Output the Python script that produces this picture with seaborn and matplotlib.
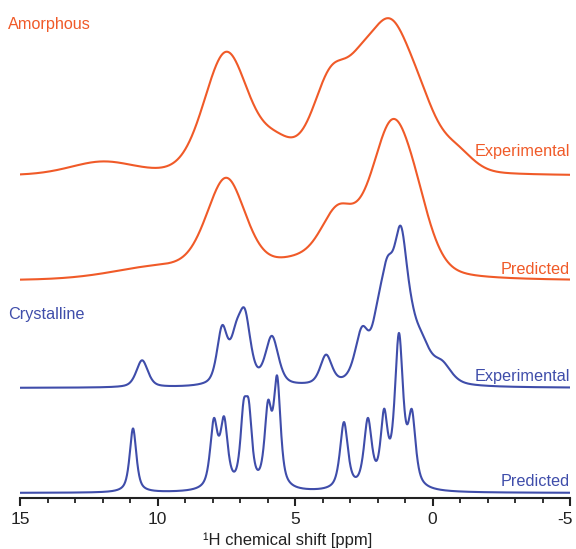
import numpy as np
import pandas as pd
import seaborn as sns
import matplotlib.pyplot as plt
from matplotlib.ticker import MultipleLocator
from matplotlib.transforms import ScaledTranslation

# ---------------- data (peak lists) ----------------
# each spectrum: peak centres (ppm), peak heights (px above its baseline), half-widths (ppm)
amorph_exp_centers = [12.0, 7.5, 5.65, 3.7, 2.6, 1.55, 0.4, -0.9]
amorph_exp_heights = [13, 121, 26, 90, 52, 130, 46, 18]
amorph_exp_widths = [1.4, 0.95, 0.8, 0.8, 0.7, 0.9, 0.8, 0.7]

amorph_pred_centers = [10.0, 7.5, 5.0, 3.45, 1.47, 0.55]
amorph_pred_heights = [12, 96, 14, 56, 150, 25]
amorph_pred_widths = [2.0, 0.85, 1.2, 0.75, 0.95, 0.7]

cryst_exp_centers = [10.56, 7.65, 7.15, 6.82, 5.84, 3.87, 2.56, 2.0, 1.65, 1.15, 0.75, 0.4, -0.35]
cryst_exp_heights = [27, 54, 38, 62, 48, 29, 49, 35, 88, 129, 20, 32, 18]
cryst_exp_widths = [0.25, 0.22, 0.25, 0.25, 0.28, 0.25, 0.3, 0.25, 0.3, 0.3, 0.3, 0.4, 0.4]

cryst_pred_centers = [10.89, 7.95, 7.58, 6.87, 6.68, 5.98, 5.65, 3.22, 2.35, 1.76, 1.22, 0.75]
cryst_pred_heights = [64, 65, 65, 65, 65, 75, 105, 67, 67, 68, 150, 68]
cryst_pred_widths = [0.145, 0.16, 0.16, 0.14, 0.14, 0.15, 0.15, 0.17, 0.17, 0.15, 0.18, 0.16]

trace_names = ["Amorphous Experimental", "Amorphous Predicted",
               "Crystalline Experimental", "Crystalline Predicted"]
tick_values = [15, 10, 5, 0, -5]
tick_labels = ["15", "10", "5", "0", "-5"]

# ---------------- layout / style ----------------
baselines = {"Amorphous Experimental": 373, "Amorphous Predicted": 268,
             "Crystalline Experimental": 161, "Crystalline Predicted": 56}
lorentz_frac = {"Amorphous Experimental": 0.2, "Amorphous Predicted": 0.3,
                "Crystalline Experimental": 0.5, "Crystalline Predicted": 0.7}
ORANGE = "#F05A28"
BLUE = "#3F4DAA"
colors = {"Amorphous Experimental": ORANGE, "Amorphous Predicted": ORANGE,
          "Crystalline Experimental": BLUE, "Crystalline Predicted": BLUE}

peaks = {
    "Amorphous Experimental": (amorph_exp_centers, amorph_exp_heights, amorph_exp_widths),
    "Amorphous Predicted": (amorph_pred_centers, amorph_pred_heights, amorph_pred_widths),
    "Crystalline Experimental": (cryst_exp_centers, cryst_exp_heights, cryst_exp_widths),
    "Crystalline Predicted": (cryst_pred_centers, cryst_pred_heights, cryst_pred_widths),
}

grid = np.linspace(15, -5, 4001)


def spectrum(centers, heights, widths, eta):
    y = np.zeros_like(grid)
    for c, h, w in zip(centers, heights, widths):
        d2 = (grid - c) ** 2
        lor = w ** 2 / (d2 + w ** 2)
        gau = np.exp(-np.log(2) * d2 / w ** 2)
        y += h * (eta * lor + (1 - eta) * gau)
    return y


frames = []
for name in trace_names:
    c, h, w = peaks[name]
    y = spectrum(c, h, w, lorentz_frac[name]) + baselines[name]
    frames.append(pd.DataFrame({"ppm": grid, "y": y, "trace": name}))
df = pd.concat(frames, ignore_index=True)

sns.set_style("white")
plt.rcParams["font.family"] = ["Liberation Sans", "DejaVu Sans"]

fig = plt.figure(figsize=(5.76, 5.49), dpi=100)
ax = fig.add_axes([20 / 576, 51 / 549, 550 / 576, 498 / 549])

sns.lineplot(data=df, x="ppm", y="y", hue="trace", palette=colors,
             estimator=None, sort=False, legend=False, linewidth=1.5, ax=ax)

ax.set_xlim(15, -5)
ax.set_ylim(51, 549)
for s in ["left", "right", "top"]:
    ax.spines[s].set_visible(False)
ax.spines["bottom"].set_linewidth(1.5)
ax.spines["bottom"].set_color("#222222")
ax.set_yticks([])
ax.set_ylabel("")
ax.set_xticks(tick_values)
ax.set_xticklabels(tick_labels, fontsize=12.5, color="#222222")
ax.xaxis.set_minor_locator(MultipleLocator(1))
ax.tick_params(axis="x", which="major", direction="out", length=6, width=1.5,
               color="#222222", pad=4, bottom=True)
ax.tick_params(axis="x", which="minor", direction="out", length=3.5, width=1.3,
               color="#222222", bottom=True)
last = ax.get_xticklabels()[-1]
last.set_transform(last.get_transform() + ScaledTranslation(-5 / 100, 0, fig.dpi_scale_trans))
ax.set_xlabel("\u00b9H chemical shift [ppm]", fontsize=12, color="#222222")
ax.xaxis.set_label_coords((288 - 20) / 550, (549 - 532 - 51) / 498)

fs = 11.7
fig.text(8 / 576, 1 - 25 / 549, "Amorphous", color=ORANGE, fontsize=fs, ha="left", va="center")
fig.text(570 / 576, 1 - 152 / 549, "Experimental", color=ORANGE, fontsize=fs, ha="right", va="center")
fig.text(570 / 576, 1 - 269 / 549, "Predicted", color=ORANGE, fontsize=fs, ha="right", va="center")
fig.text(8 / 576, 1 - 315 / 549, "Crystalline", color=BLUE, fontsize=fs, ha="left", va="center")
fig.text(570 / 576, 1 - 376 / 549, "Experimental", color=BLUE, fontsize=fs, ha="right", va="center")
fig.text(570 / 576, 1 - 481 / 549, "Predicted", color=BLUE, fontsize=fs, ha="right", va="center")

fig.savefig("out.png", dpi=100)
